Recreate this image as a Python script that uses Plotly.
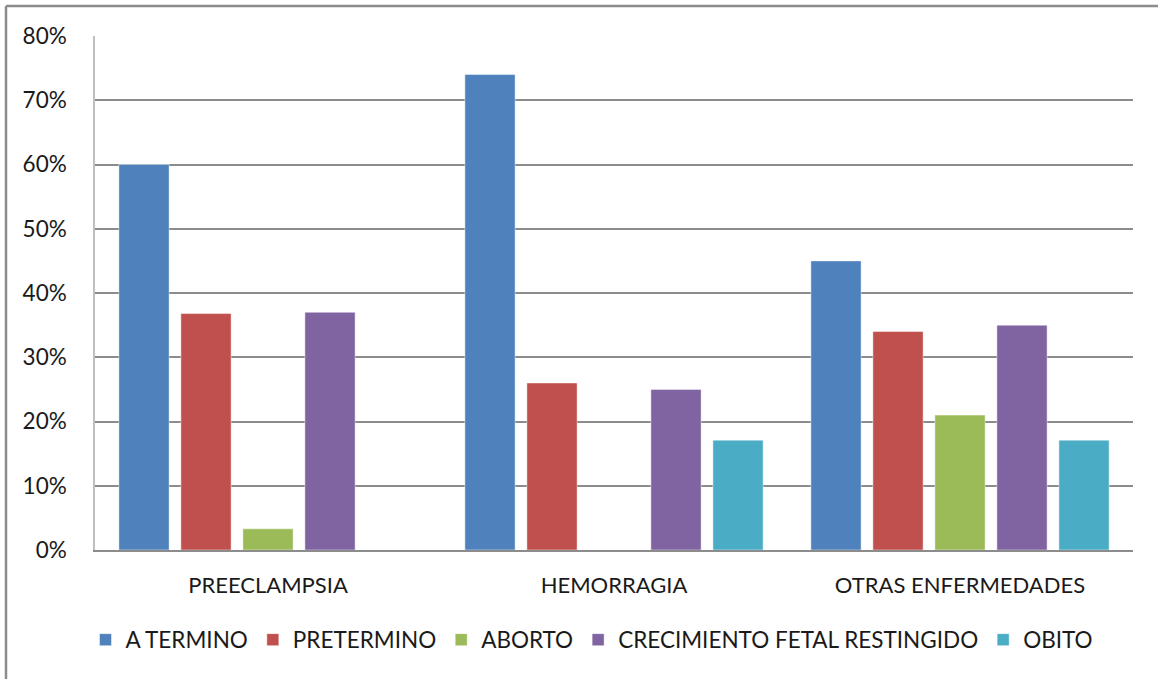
import plotly.graph_objects as go

categories = ["PREECLAMPSIA", "HEMORRAGIA", "OTRAS ENFERMEDADES"]
series_names = ["A TERMINO", "PRETERMINO", "ABORTO", "CRECIMIENTO FETAL RESTINGIDO", "OBITO"]
a_termino = [0.60, 0.74, 0.45]
pretermino = [0.368, 0.26, 0.34]
aborto = [0.033, None, 0.21]
crecimiento = [0.37, 0.25, 0.35]
obito = [None, 0.171, 0.171]
colors = ["#4F81BD", "#C0504D", "#9BBB59", "#8064A2", "#4BACC6"]
y_ticks = [0, 0.1, 0.2, 0.3, 0.4, 0.5, 0.6, 0.7, 0.8]

series_values = [a_termino, pretermino, aborto, crecimiento, obito]

fig = go.Figure()
for name, vals, col in zip(series_names, series_values, colors):
    fig.add_trace(go.Bar(
        x=categories, y=vals, name=name,
        marker=dict(color=col, line=dict(color="rgba(255,255,255,0.45)", width=1)),
    ))

FONT = "Lato, 'Open Sans', sans-serif"
W, H = 1158, 679
L, R, T, B = 95, 25, 36, 129
pw, ph = W - L - R, H - T - B

fig.update_layout(
    width=W, height=H,
    margin=dict(l=L, r=R, t=T, b=B),
    paper_bgcolor="white", plot_bgcolor="white",
    barmode="group", bargap=0.104, bargroupgap=0.19,
    font=dict(family=FONT, size=22, color="#1a1a1a"),
    showlegend=True,
    legend=dict(orientation="h", x=(592 - L) / pw, xanchor="center",
                y=-(640 - (T + ph)) / ph, yanchor="middle",
                font=dict(family=FONT, size=22.5, color="#1a1a1a"),
                itemwidth=30, tracegroupgap=0, traceorder="normal",
                bgcolor="rgba(0,0,0,0)"),
    xaxis=dict(showgrid=False, showline=True, linecolor="#8c8c8c", linewidth=1.5,
               ticks="", ticklabelstandoff=15,
               tickfont=dict(family=FONT, size=22, color="#1a1a1a")),
    yaxis=dict(range=[0, 0.8], tickvals=y_ticks, tickformat=".0%",
               showgrid=True, gridcolor="#8c8c8c", gridwidth=1.5,
               showline=True, linecolor="#bfbfbf", linewidth=1.5,
               ticks="", ticklabelstandoff=22, zeroline=False,
               tickfont=dict(family=FONT, size=22.5, color="#1a1a1a")),
    shapes=[
        dict(type="line", xref="paper", yref="paper",
             x0=(6 - L) / pw, x1=(W + 10 - L) / pw,
             y0=1 + (T - 6) / ph, y1=1 + (T - 6) / ph,
             line=dict(color="#8c8c8c", width=2.5)),
        dict(type="line", xref="paper", yref="paper",
             x0=(6 - L) / pw, x1=(6 - L) / pw,
             y0=1 + (T - 6) / ph, y1=-(H + 10 - T - ph) / ph,
             line=dict(color="#8c8c8c", width=2.5)),
    ],
)

fig.write_html("out.html")
